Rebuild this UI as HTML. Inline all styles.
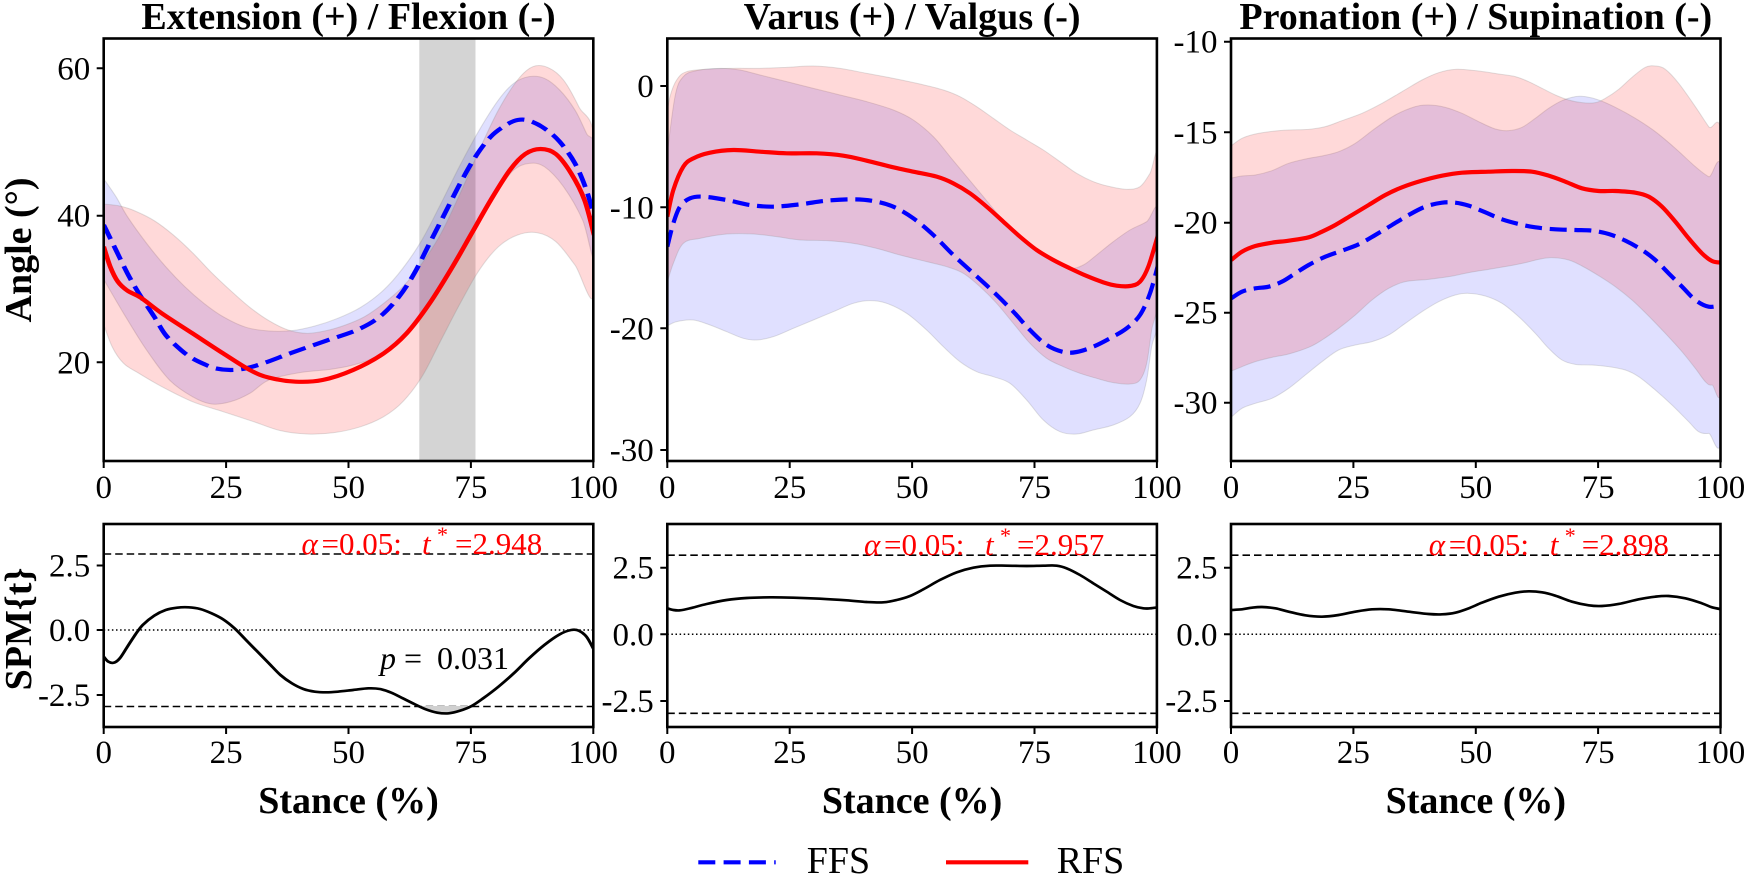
<!DOCTYPE html>
<html>
<head>
<meta charset="utf-8">
<style>
html,body{margin:0;padding:0;background:#fff;}
svg{display:block;}
text{font-family:"Liberation Serif","Times New Roman",serif;fill:#000;}
.tk{font-size:33px;font-family:"Liberation Serif","Times New Roman",serif;}
.ttl{font-size:38px;font-weight:bold;}
.lab{font-size:38px;font-weight:bold;}
.leg{font-size:38px;}
.red{fill:#ff0000;font-size:31px;}
</style>
</head>
<body>
<svg width="1749" height="879" viewBox="0 0 1749 879" xmlns="http://www.w3.org/2000/svg">
<rect width="1749" height="879" fill="#fff"/>
<defs>
<clipPath id="c1"><rect x="103.7" y="38.5" width="489.6" height="422.5"/></clipPath>
<clipPath id="c2"><rect x="667.3" y="38.5" width="489.6" height="422.5"/></clipPath>
<clipPath id="c3"><rect x="1231" y="38.5" width="489.5" height="422.5"/></clipPath>
<clipPath id="b1"><rect x="103.7" y="524" width="489.6" height="203"/></clipPath>
<clipPath id="b2"><rect x="667.3" y="524" width="489.6" height="203"/></clipPath>
<clipPath id="b3"><rect x="1231" y="524" width="489.5" height="203"/></clipPath>
</defs>

<!-- ================= PANEL 1 TOP ================= -->
<rect x="419.3" y="38.5" width="56.2" height="422.5" fill="#d4d4d4"/>
<g clip-path="url(#c1)">
<g transform="matrix(0.3825 0 0 0.33333 1.2 0)">
<polygon class="sm" fill="#0000ff" fill-opacity="0.12" stroke="#888" stroke-opacity="0.25" stroke-width="3"
points="264,530 300,590 330,650 380,730 430,800 480,860 530,910 580,950 640,982 700,993 760,992 820,978 880,955 940,922 1000,870 1050,805 1100,720 1150,610 1200,495 1250,390 1300,300 1340,250 1380,230 1420,235 1460,270 1500,330 1530,400 1552,455 1552,770 1520,660 1470,560 1420,500 1380,490 1340,510 1300,570 1250,660 1200,765 1150,860 1100,950 1040,1020 980,1070 920,1095 860,1108 780,1118 700,1140 650,1180 600,1205 550,1212 500,1190 440,1140 380,1050 320,940 264,830"/>
<polygon class="sm" fill="#ff0000" fill-opacity="0.15" stroke="#888" stroke-opacity="0.25" stroke-width="3"
points="264,612 310,618 350,633 400,662 450,705 500,758 550,818 600,872 650,922 700,962 750,990 800,1000 850,992 900,975 950,950 1000,910 1050,860 1100,790 1150,700 1200,580 1250,450 1300,330 1350,240 1390,200 1430,203 1470,240 1510,320 1552,430 1552,880 1500,795 1450,725 1400,698 1350,705 1300,740 1250,810 1200,910 1150,1020 1100,1130 1050,1205 1000,1250 940,1280 870,1298 800,1302 730,1292 660,1265 580,1235 500,1205 420,1160 360,1120 320,1090 290,1040 264,960"/>
<polyline class="sm" fill="none" stroke="#0000ff" stroke-width="12.5" stroke-dasharray="46 21" stroke-linejoin="round"
points="268,675 300,750 330,820 360,880 400,950 430,1005 470,1050 500,1075 530,1092 560,1105 600,1110 640,1105 690,1088 760,1058 850,1022 930,990 990,950 1040,890 1080,820 1120,730 1160,640 1200,550 1240,470 1280,410 1320,375 1350,360 1380,362 1420,385 1460,425 1500,490 1530,570 1550,650"/>
<polyline class="sm" fill="none" stroke="#ff0000" stroke-width="12.5" stroke-linejoin="round"
points="268,740 285,800 305,845 330,872 365,893 420,940 500,1000 580,1060 650,1110 700,1133 770,1145 840,1140 920,1110 1000,1060 1060,1000 1120,910 1180,800 1230,700 1280,600 1330,510 1370,462 1410,447 1450,462 1490,520 1525,600 1550,705"/>
</g>
</g>
<rect x="103.7" y="38.5" width="489.6" height="422.5" fill="none" stroke="#000" stroke-width="2.6"/>

<!-- ================= PANEL 2 TOP ================= -->
<g clip-path="url(#c2)">
<g transform="matrix(0.33333 0 0 0.33333 660 30)">
<polygon class="sm" fill="#0000ff" fill-opacity="0.12" stroke="#888" stroke-opacity="0.25" stroke-width="3"
points="18,400 45,200 70,140 110,122 180,115 240,120 300,135 380,155 460,175 540,195 620,215 700,240 760,270 820,320 870,380 920,440 970,500 1020,560 1080,620 1130,665 1180,695 1230,715 1270,705 1310,675 1360,635 1410,600 1460,575 1496,545 1496,850 1475,950 1460,1050 1440,1120 1410,1160 1360,1185 1300,1200 1250,1212 1200,1205 1150,1170 1100,1110 1050,1060 1000,1040 950,1025 900,995 850,950 800,900 740,850 680,820 630,812 580,820 520,845 460,870 400,895 340,920 290,930 250,925 200,905 150,885 100,870 50,875 18,890"/>
<polygon class="sm" fill="#ff0000" fill-opacity="0.15" stroke="#888" stroke-opacity="0.25" stroke-width="3"
points="18,270 30,200 50,150 80,125 150,117 220,115 300,115 380,112 460,108 540,115 620,130 700,145 780,162 850,180 900,200 950,230 1000,265 1050,300 1100,330 1150,360 1200,395 1250,430 1300,455 1350,470 1400,478 1440,470 1470,430 1496,380 1496,780 1475,900 1460,1000 1440,1050 1410,1062 1360,1058 1310,1045 1260,1030 1210,1010 1160,985 1110,940 1060,880 1010,820 960,770 910,730 860,710 800,695 720,675 650,655 580,640 500,632 420,630 350,620 280,612 200,612 120,625 70,640 40,700 18,770"/>
<polyline class="sm" fill="none" stroke="#0000ff" stroke-width="12.6" stroke-dasharray="51 23" stroke-linejoin="round"
points="22,650 40,580 60,530 90,505 130,500 200,510 270,525 340,530 420,523 500,512 580,508 640,513 700,530 760,565 820,615 880,675 940,730 1000,785 1060,845 1110,900 1160,945 1210,966 1250,966 1300,950 1350,925 1400,895 1440,855 1470,790 1494,705"/>
<polyline class="sm" fill="none" stroke="#ff0000" stroke-width="12.6" stroke-linejoin="round"
points="22,560 40,480 70,410 100,385 150,368 220,360 300,365 380,370 470,370 550,377 620,392 700,412 760,425 830,440 880,460 930,490 980,530 1030,575 1080,620 1130,660 1180,690 1230,715 1280,738 1330,757 1370,767 1410,768 1440,755 1465,710 1494,615"/>
</g>
</g>
<rect x="667.3" y="38.5" width="489.6" height="422.5" fill="none" stroke="#000" stroke-width="2.6"/>

<!-- ================= PANEL 3 TOP ================= -->
<g clip-path="url(#c3)">
<g transform="matrix(0.33333 0 0 0.33333 1222 30)">
<polygon class="sm" fill="#0000ff" fill-opacity="0.12" stroke="#888" stroke-opacity="0.25" stroke-width="3"
points="24,445 60,438 100,435 150,422 200,400 260,385 300,378 350,365 400,340 460,295 520,255 580,230 620,225 670,232 720,250 770,275 820,297 860,302 900,292 940,265 980,235 1020,212 1060,200 1090,200 1130,210 1180,232 1240,265 1300,305 1360,355 1420,410 1460,440 1501,452 1501,1195 1460,1210 1430,1205 1400,1175 1350,1125 1300,1080 1250,1040 1210,1020 1160,1010 1110,1005 1060,1003 1020,990 980,955 940,910 890,860 840,820 790,798 740,790 700,795 650,815 600,845 550,880 500,915 450,935 400,945 350,960 300,995 250,1035 200,1075 150,1105 100,1120 60,1135 24,1165"/>
<polygon class="sm" fill="#ff0000" fill-opacity="0.15" stroke="#888" stroke-opacity="0.25" stroke-width="3"
points="24,350 60,325 100,312 150,304 200,300 260,298 310,290 360,272 420,250 480,220 540,185 600,150 650,128 700,118 760,122 830,132 880,140 920,155 960,175 1000,195 1040,210 1080,218 1120,218 1150,205 1190,178 1230,142 1270,112 1300,108 1330,118 1370,160 1420,230 1460,290 1501,345 1501,1045 1470,1065 1450,1055 1420,1015 1380,965 1330,910 1280,858 1230,810 1180,770 1130,737 1080,708 1040,690 990,683 950,688 910,698 860,708 800,718 740,728 680,740 620,748 550,755 500,775 450,810 400,855 350,895 300,930 260,952 200,972 150,982 100,995 60,1010 24,1025"/>
<polyline class="sm" fill="none" stroke="#0000ff" stroke-width="12.6" stroke-dasharray="51 23" stroke-linejoin="round"
points="28,805 60,785 100,775 140,770 180,755 220,730 260,705 310,680 360,662 410,643 460,615 510,585 560,555 610,530 660,518 700,518 740,527 790,547 840,568 890,582 940,592 1000,598 1060,600 1110,602 1160,612 1210,632 1260,660 1300,690 1340,730 1380,770 1420,810 1460,830 1499,825"/>
<polyline class="sm" fill="none" stroke="#ff0000" stroke-width="12.6" stroke-linejoin="round"
points="28,690 60,665 100,648 150,638 200,632 260,622 300,605 340,585 390,555 440,525 490,495 540,472 600,452 660,437 720,428 800,425 870,423 930,425 980,437 1030,455 1080,475 1130,483 1180,483 1240,488 1280,500 1320,530 1360,575 1400,625 1440,670 1470,693 1499,698"/>
</g>
</g>
<rect x="1231" y="38.5" width="489.5" height="422.5" fill="none" stroke="#000" stroke-width="2.6"/>

<!-- ================= BOTTOM PANEL 1 ================= -->
<g clip-path="url(#b1)">
<line x1="103.7" y1="554" x2="593.3" y2="554" stroke="#000" stroke-width="1.6" stroke-dasharray="7.5 4"/>
<line x1="103.7" y1="706.5" x2="593.3" y2="706.5" stroke="#000" stroke-width="1.6" stroke-dasharray="7.5 4"/>
<line x1="103.7" y1="630" x2="593.3" y2="630" stroke="#000" stroke-width="1.5" stroke-dasharray="1.5 2.6"/>
<g transform="matrix(0.3825 0 0 0.33333 1.2 440)">
<polygon fill="#d0d0d0" points="1085,798 1110,808 1140,818 1170,820 1200,812 1235,798"/>
<polyline class="sm" fill="none" stroke="#000" stroke-width="8" stroke-linejoin="round"
points="268,650 280,665 295,668 310,655 330,620 350,585 370,555 400,527 430,510 460,503 490,502 520,507 550,520 580,538 610,565 640,600 670,635 700,670 730,705 760,730 790,747 820,755 850,757 880,755 920,750 960,745 990,747 1020,758 1050,775 1080,792 1110,808 1140,818 1170,820 1200,812 1230,798 1260,775 1300,740 1340,700 1380,655 1420,615 1460,583 1490,570 1510,572 1530,590 1550,630"/>
</g>
</g>
<rect x="103.7" y="524" width="489.6" height="203" fill="none" stroke="#000" stroke-width="2.6"/>

<!-- ================= BOTTOM PANEL 2 ================= -->
<g clip-path="url(#b2)">
<line x1="667.3" y1="555.2" x2="1156.9" y2="555.2" stroke="#000" stroke-width="1.6" stroke-dasharray="7.5 4"/>
<line x1="667.3" y1="713.3" x2="1156.9" y2="713.3" stroke="#000" stroke-width="1.6" stroke-dasharray="7.5 4"/>
<line x1="667.3" y1="634.3" x2="1156.9" y2="634.3" stroke="#000" stroke-width="1.5" stroke-dasharray="1.5 2.6"/>
<g transform="matrix(0.33333 0 0 0.33333 660 520)">
<polyline class="sm" fill="none" stroke="#000" stroke-width="8" stroke-linejoin="round"
points="22,265 40,270 60,271 90,265 140,252 200,240 260,234 330,232 400,233 480,236 560,241 620,246 670,247 710,240 750,228 790,208 840,180 890,157 940,143 990,137 1040,137 1100,138 1150,137 1190,137 1220,145 1260,165 1300,190 1340,215 1380,240 1420,258 1450,265 1470,265 1494,262"/>
</g>
</g>
<rect x="667.3" y="524" width="489.6" height="203" fill="none" stroke="#000" stroke-width="2.6"/>

<!-- ================= BOTTOM PANEL 3 ================= -->
<g clip-path="url(#b3)">
<line x1="1231" y1="555.2" x2="1720.5" y2="555.2" stroke="#000" stroke-width="1.6" stroke-dasharray="7.5 4"/>
<line x1="1231" y1="713.3" x2="1720.5" y2="713.3" stroke="#000" stroke-width="1.6" stroke-dasharray="7.5 4"/>
<line x1="1231" y1="634.3" x2="1720.5" y2="634.3" stroke="#000" stroke-width="1.5" stroke-dasharray="1.5 2.6"/>
<g transform="matrix(0.33333 0 0 0.33333 1222 520)">
<polyline class="sm" fill="none" stroke="#000" stroke-width="8" stroke-linejoin="round"
points="28,270 60,268 90,263 120,261 160,265 200,275 250,286 300,290 350,285 400,275 450,268 500,268 560,275 620,282 660,283 700,278 740,265 780,248 830,230 880,218 920,214 960,217 1000,227 1050,245 1100,256 1140,258 1190,252 1250,238 1300,230 1340,228 1390,235 1440,250 1470,262 1499,268"/>
</g>
</g>
<rect x="1231" y="524" width="489.5" height="203" fill="none" stroke="#000" stroke-width="2.6"/>

<!-- ================= TICKS ================= -->
<g stroke="#000" stroke-width="2">
<path d="M103.7 461v7M226.1 461v7M348.5 461v7M470.9 461v7M593.3 461v7"/>
<path d="M667.3 461v7M789.7 461v7M912.1 461v7M1034.5 461v7M1156.9 461v7"/>
<path d="M1231 461v7M1353.4 461v7M1475.8 461v7M1598.1 461v7M1720.5 461v7"/>
<path d="M103.7 727v7M226.1 727v7M348.5 727v7M470.9 727v7M593.3 727v7"/>
<path d="M667.3 727v7M789.7 727v7M912.1 727v7M1034.5 727v7M1156.9 727v7"/>
<path d="M1231 727v7M1353.4 727v7M1475.8 727v7M1598.1 727v7M1720.5 727v7"/>
<path d="M103.7 68.3h-7M103.7 215.7h-7M103.7 362.3h-7"/>
<path d="M667.3 86h-7M667.3 207.3h-7M667.3 328.3h-7M667.3 450h-7"/>
<path d="M1231 41.7h-7M1231 132.3h-7M1231 222.7h-7M1231 312.7h-7M1231 402.7h-7"/>
<path d="M103.7 565.5h-7M103.7 630h-7M103.7 695h-7"/>
<path d="M667.3 567.7h-7M667.3 634.3h-7M667.3 701h-7"/>
<path d="M1231 567.7h-7M1231 634.3h-7M1231 701h-7"/>
</g>

<!-- ================= TICK LABELS ================= -->
<g class="tk" font-family="Liberation Serif, serif" font-size="33" text-anchor="middle">
<text x="103.7" y="498">0</text><text x="226.1" y="498">25</text><text x="348.5" y="498">50</text><text x="470.9" y="498">75</text><text x="593.3" y="498">100</text>
<text x="667.3" y="498">0</text><text x="789.7" y="498">25</text><text x="912.1" y="498">50</text><text x="1034.5" y="498">75</text><text x="1156.9" y="498">100</text>
<text x="1231" y="498">0</text><text x="1353.4" y="498">25</text><text x="1475.8" y="498">50</text><text x="1598.1" y="498">75</text><text x="1720.5" y="498">100</text>
<text x="103.7" y="763">0</text><text x="226.1" y="763">25</text><text x="348.5" y="763">50</text><text x="470.9" y="763">75</text><text x="593.3" y="763">100</text>
<text x="667.3" y="763">0</text><text x="789.7" y="763">25</text><text x="912.1" y="763">50</text><text x="1034.5" y="763">75</text><text x="1156.9" y="763">100</text>
<text x="1231" y="763">0</text><text x="1353.4" y="763">25</text><text x="1475.8" y="763">50</text><text x="1598.1" y="763">75</text><text x="1720.5" y="763">100</text>
</g>
<g class="tk" font-family="Liberation Serif, serif" font-size="33" text-anchor="end">
<text x="90.2" y="79.3">60</text><text x="90.2" y="226.7">40</text><text x="90.2" y="373.3">20</text>
<text x="653.8" y="97">0</text><text x="653.8" y="218.3">-10</text><text x="653.8" y="339.3">-20</text><text x="653.8" y="461">-30</text>
<text x="1217.5" y="52.7">-10</text><text x="1217.5" y="143.3">-15</text><text x="1217.5" y="233.7">-20</text><text x="1217.5" y="323.7">-25</text><text x="1217.5" y="413.7">-30</text>
<text x="90.2" y="576.5">2.5</text><text x="90.2" y="641">0.0</text><text x="90.2" y="706">-2.5</text>
<text x="653.8" y="578.7">2.5</text><text x="653.8" y="645.3">0.0</text><text x="653.8" y="712">-2.5</text>
<text x="1217.5" y="578.7">2.5</text><text x="1217.5" y="645.3">0.0</text><text x="1217.5" y="712">-2.5</text>
</g>

<!-- ================= TITLES & LABELS ================= -->
<g class="ttl" text-anchor="middle">
<text x="348.5" y="29">Extension (+) / Flexion (-)</text>
<text x="912.1" y="29">Varus (+) / Valgus (-)</text>
<text x="1475.8" y="29">Pronation (+) / Supination (-)</text>
</g>
<g class="lab" text-anchor="middle">
<text transform="translate(31,250) rotate(-90)">Angle (°)</text>
<text transform="translate(31,629) rotate(-90)">SPM{t}</text>
<text x="348.5" y="813">Stance (%)</text>
<text x="912.1" y="813">Stance (%)</text>
<text x="1475.8" y="813">Stance (%)</text>
</g>

<!-- ================= ANNOTATIONS ================= -->
<text class="red" y="554"><tspan x="301.5" font-style="italic">α</tspan><tspan x="321.5">=0.05:</tspan><tspan x="422" font-style="italic">t</tspan><tspan x="437" dy="-12" font-size="22">*</tspan><tspan x="455" dy="12">=2.948</tspan></text>
<text class="red" y="555"><tspan x="864" font-style="italic">α</tspan><tspan x="884">=0.05:</tspan><tspan x="985" font-style="italic">t</tspan><tspan x="1000" dy="-12" font-size="22">*</tspan><tspan x="1017" dy="12">=2.957</tspan></text>
<text class="red" y="555"><tspan x="1428.7" font-style="italic">α</tspan><tspan x="1448.7">=0.05:</tspan><tspan x="1549.7" font-style="italic">t</tspan><tspan x="1564.7" dy="-12" font-size="22">*</tspan><tspan x="1581.7" dy="12">=2.898</tspan></text>
<text y="669" font-size="32"><tspan x="380" font-style="italic">p</tspan><tspan x="404">=</tspan><tspan x="437">0.031</tspan></text>

<!-- ================= LEGEND ================= -->
<line x1="698.3" y1="862.3" x2="775.7" y2="862.3" stroke="#0000ff" stroke-width="4.2" stroke-dasharray="17 8.3"/>
<text class="leg" x="806.7" y="873">FFS</text>
<line x1="946" y1="862.3" x2="1028.3" y2="862.3" stroke="#ff0000" stroke-width="4.2"/>
<text class="leg" x="1056.7" y="873">RFS</text>
</svg>
<script>
(function(){
  var els = document.querySelectorAll('polyline.sm, polygon.sm');
  for (var k=0;k<els.length;k++){
    var el = els[k];
    var nums = el.getAttribute('points').trim().split(/[\s,]+/).map(Number);
    var p=[]; for (var i=0;i+1<nums.length;i+=2) p.push([nums[i],nums[i+1]]);
    if (p.length<3) continue;
    var d='M'+p[0][0]+','+p[0][1];
    for (var j=0;j<p.length-1;j++){
      var p0=p[j-1]||p[j], p1=p[j], p2=p[j+1], p3=p[j+2]||p2;
      var c1x=p1[0]+(p2[0]-p0[0])/6, c1y=p1[1]+(p2[1]-p0[1])/6;
      var c2x=p2[0]-(p3[0]-p1[0])/6, c2y=p2[1]-(p3[1]-p1[1])/6;
      d+=' C'+c1x.toFixed(2)+','+c1y.toFixed(2)+' '+c2x.toFixed(2)+','+c2y.toFixed(2)+' '+p2[0]+','+p2[1];
    }
    if (el.tagName.toLowerCase()==='polygon') d+=' Z';
    var path=document.createElementNS('http://www.w3.org/2000/svg','path');
    for (var a=0;a<el.attributes.length;a++){
      var at=el.attributes[a];
      if (at.name!=='points' && at.name!=='class') path.setAttribute(at.name,at.value);
    }
    path.setAttribute('d',d);
    el.parentNode.replaceChild(path,el);
  }
})();
</script>
</body>
</html>
